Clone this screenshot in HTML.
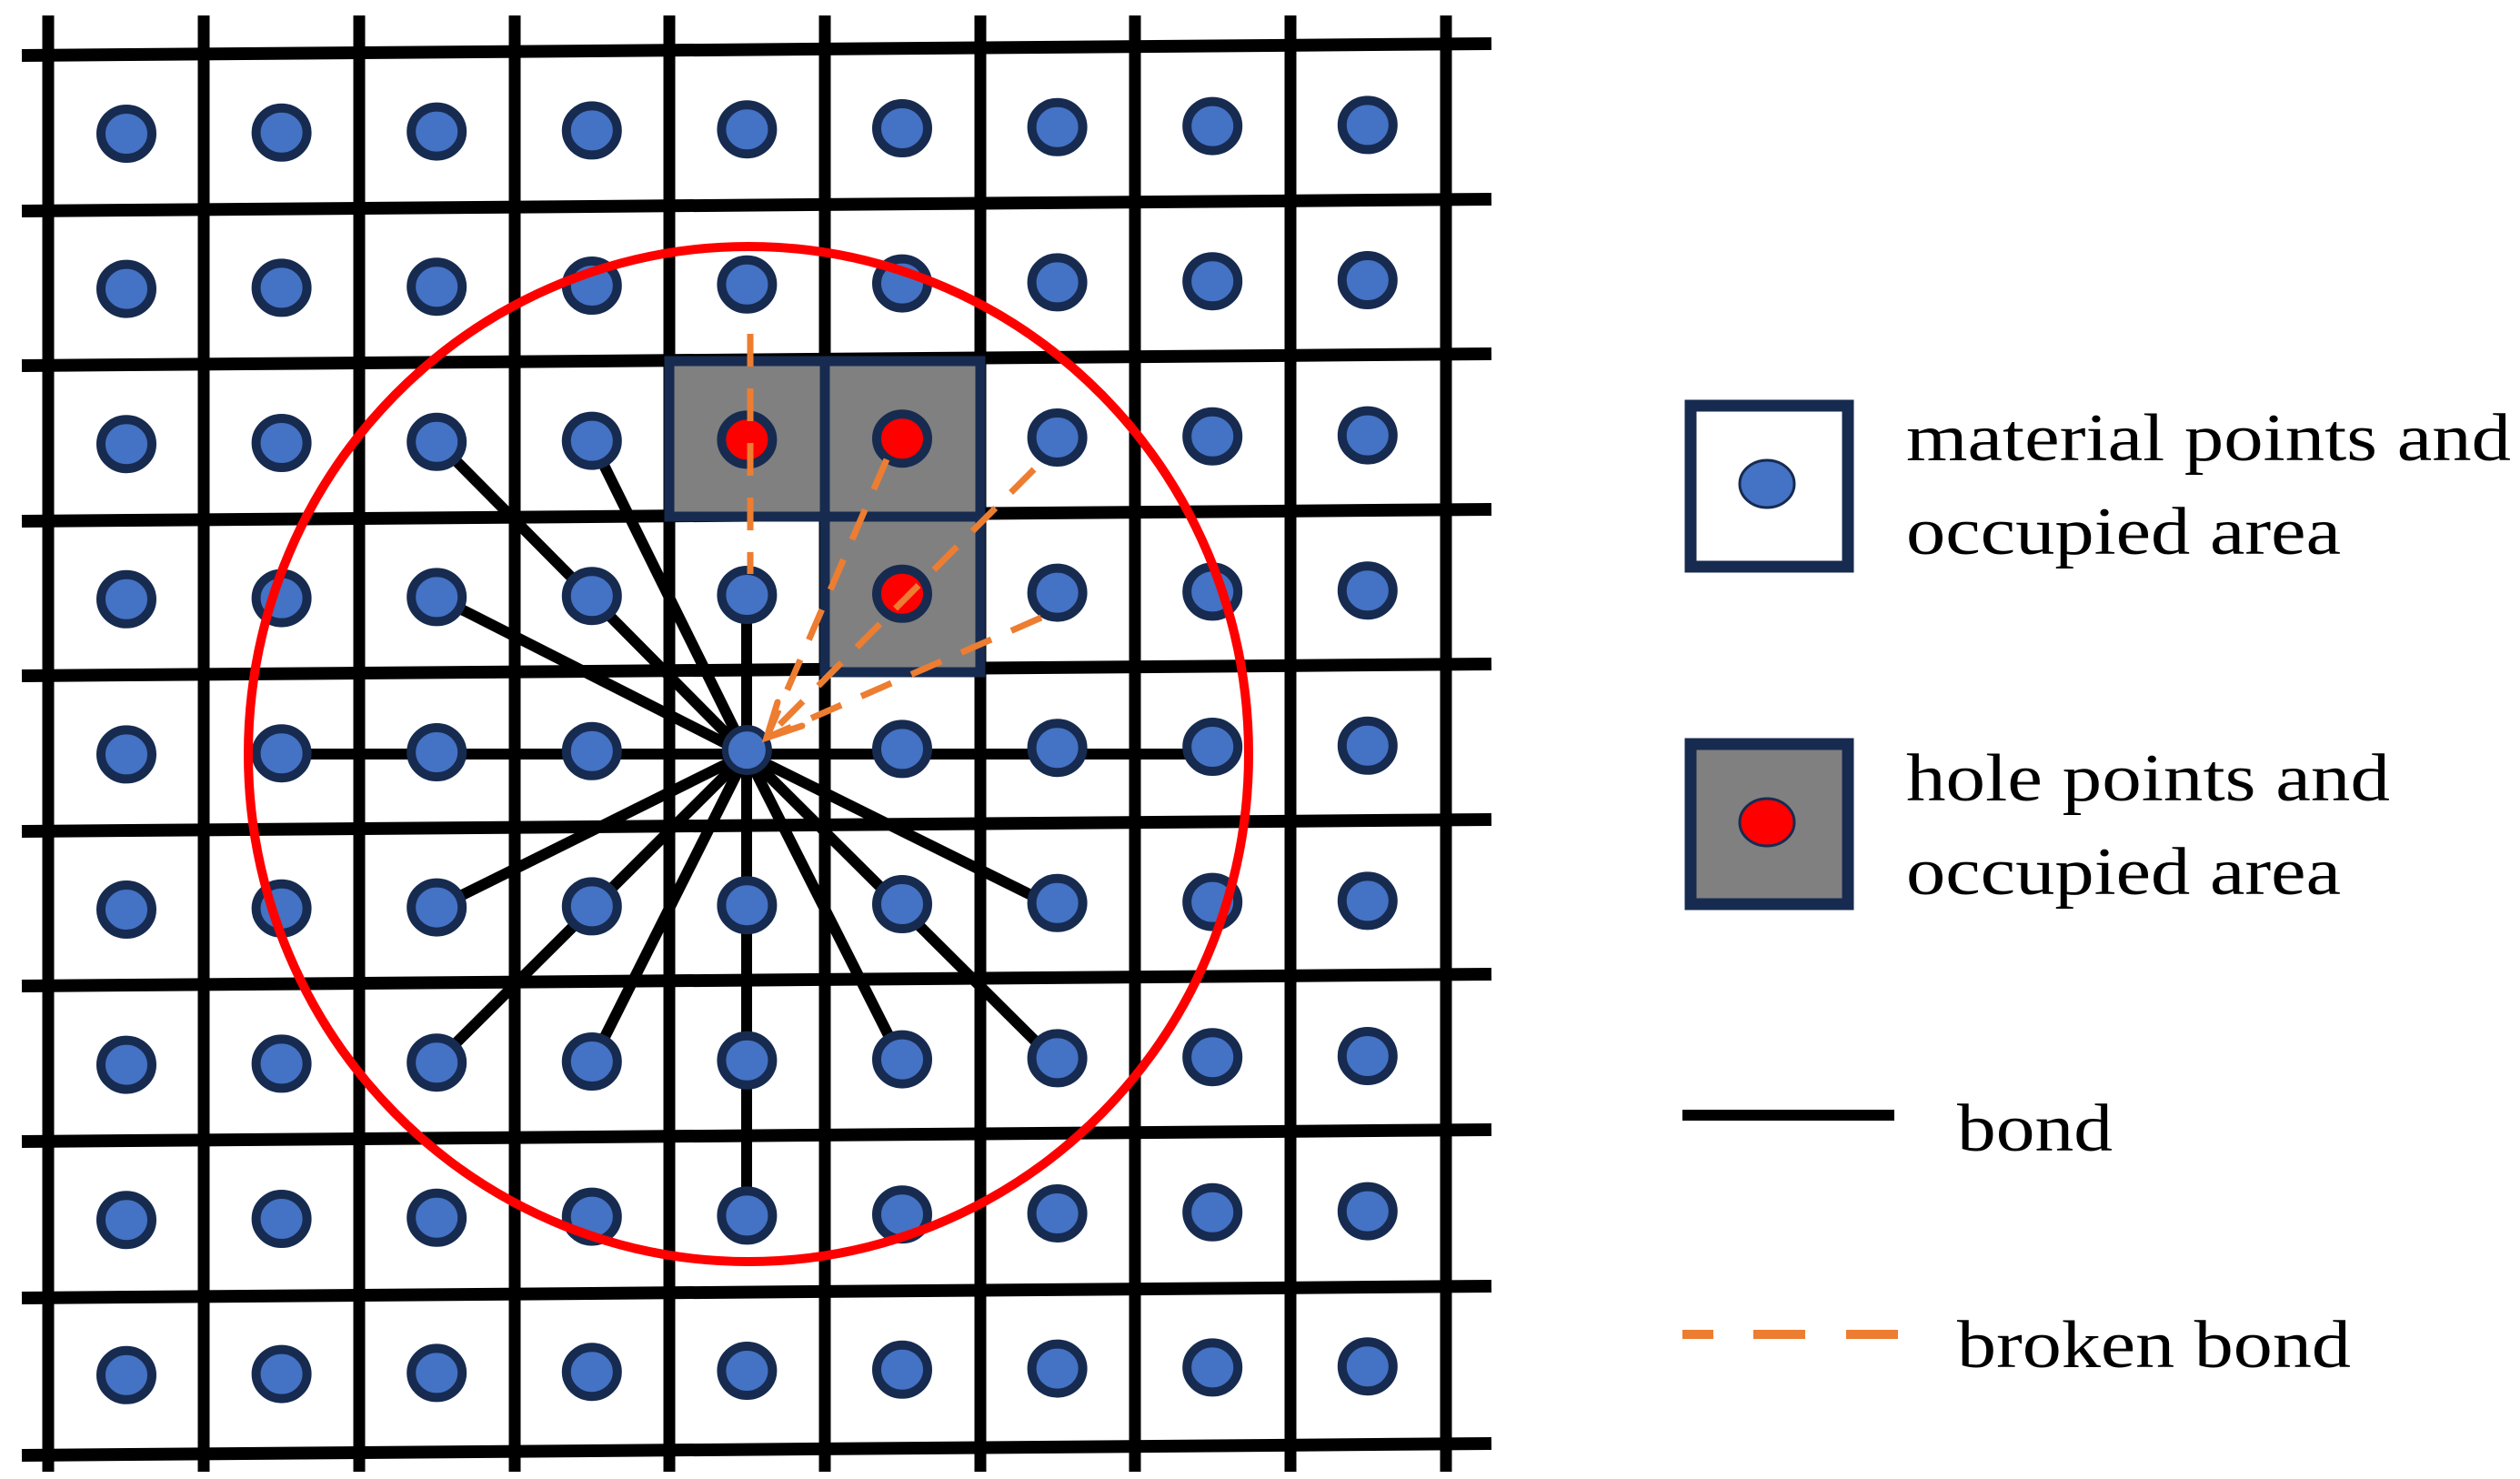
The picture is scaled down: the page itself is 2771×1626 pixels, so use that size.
<!DOCTYPE html>
<html><head><meta charset="utf-8"><style>html,body{margin:0;padding:0;background:#fff}svg{display:block}</style></head>
<body>
<svg width="2771" height="1626" viewBox="0 0 2771 1626" xmlns="http://www.w3.org/2000/svg">
<rect width="2771" height="1626" fill="#fff"/>
<g stroke="#000" stroke-width="13">
<line x1="53" y1="17" x2="53" y2="1618"/>
<line x1="224" y1="17" x2="224" y2="1618"/>
<line x1="395" y1="17" x2="395" y2="1618"/>
<line x1="566" y1="17" x2="566" y2="1618"/>
<line x1="736" y1="17" x2="736" y2="1618"/>
<line x1="907" y1="17" x2="907" y2="1618"/>
<line x1="1078" y1="17" x2="1078" y2="1618"/>
<line x1="1248" y1="17" x2="1248" y2="1618"/>
<line x1="1419" y1="17" x2="1419" y2="1618"/>
<line x1="1590" y1="17" x2="1590" y2="1618"/>
</g>
<g stroke="#000" stroke-width="14">
<line x1="24" y1="61" x2="1640" y2="48"/>
<line x1="24" y1="232" x2="1640" y2="219"/>
<line x1="24" y1="402" x2="1640" y2="389"/>
<line x1="24" y1="573" x2="1640" y2="560"/>
<line x1="24" y1="743" x2="1640" y2="730"/>
<line x1="24" y1="914" x2="1640" y2="901"/>
<line x1="24" y1="1084" x2="1640" y2="1071"/>
<line x1="24" y1="1255" x2="1640" y2="1242"/>
<line x1="24" y1="1427" x2="1640" y2="1414"/>
<line x1="24" y1="1600" x2="1640" y2="1587"/>
</g>
<g fill="#808080" stroke="#172B50" stroke-width="11">
<rect x="736" y="397" width="171" height="171"/>
<rect x="907" y="397" width="171" height="171"/>
<rect x="907" y="568" width="171" height="171"/>
</g>
<g stroke="#000" stroke-width="12" stroke-linecap="round">
<line x1="821" y1="829" x2="480" y2="485"/>
<line x1="821" y1="829" x2="651" y2="485"/>
<line x1="821" y1="829" x2="480" y2="656"/>
<line x1="309" y1="829" x2="1333" y2="829"/>
<line x1="821" y1="829" x2="821" y2="656"/>
<line x1="821" y1="829" x2="821" y2="1340"/>
<line x1="821" y1="829" x2="480" y2="998"/>
<line x1="821" y1="829" x2="480" y2="1168"/>
<line x1="821" y1="829" x2="651" y2="1168"/>
<line x1="821" y1="829" x2="992" y2="1168"/>
<line x1="821" y1="829" x2="1162" y2="1168"/>
<line x1="821" y1="829" x2="1162" y2="998"/>
</g>
<g id="dots" fill="#4472C4" stroke="#172B50" stroke-width="10">
</g>
<ellipse cx="823" cy="829" rx="550" ry="558" fill="none" stroke="#FF0000" stroke-width="10"/>
<script>
(function(){
var g=document.getElementById('dots');var ns='http://www.w3.org/2000/svg';
for(var r=0;r<9;r++)for(var c=0;c<9;c++){
var cx=139+c*170.6, cy=147+r*170.6-c*1.2;
var e=document.createElementNS(ns,'ellipse');
e.setAttribute('cx',cx);e.setAttribute('cy',cy);e.setAttribute('rx',28);e.setAttribute('ry',27);
var hole=(r==2&&(c==4||c==5))||(r==3&&c==5);
if(hole)e.setAttribute('fill','#FF0000');
if(r==4&&c==4){e.setAttribute('rx',24);e.setAttribute('ry',24);e.setAttribute('stroke-width','7');}
g.appendChild(e);}
})();
</script>
<g stroke="#ED7D31" stroke-width="7" fill="none" stroke-dasharray="36 24">
<line x1="825" y1="367" x2="825" y2="631"/>
<line x1="975" y1="505" x2="843" y2="811"/>
<line x1="1137" y1="516" x2="843" y2="811"/>
<line x1="1145" y1="679" x2="843" y2="811"/>
</g>
<g stroke="#ED7D31" stroke-width="7" fill="none" stroke-linecap="round">
<polyline points="855,772 843,811 882,798"/>
</g>
<rect x="1859" y="446" width="173" height="177" fill="#fff" stroke="#172B50" stroke-width="13"/>
<ellipse cx="1943" cy="532" rx="30" ry="26" fill="#4472C4" stroke="#172B50" stroke-width="3"/>
<rect x="1859" y="818" width="173" height="176" fill="#808080" stroke="#172B50" stroke-width="13"/>
<ellipse cx="1943" cy="904" rx="30" ry="26" fill="#FF0000" stroke="#172B50" stroke-width="3"/>
<line x1="1850" y1="1226" x2="2083" y2="1226" stroke="#000" stroke-width="12"/>
<g stroke="#ED7D31" stroke-width="10">
<line x1="1850" y1="1467" x2="1884" y2="1467"/>
<line x1="1928" y1="1467" x2="1985" y2="1467"/>
<line x1="2030" y1="1467" x2="2087" y2="1467"/>
</g>
<g font-family="Liberation Serif, serif" font-size="74" fill="#000">
<text x="2096" y="506" textLength="665" lengthAdjust="spacingAndGlyphs">material points and</text>
<text x="2096" y="609" textLength="478" lengthAdjust="spacingAndGlyphs">occupied area</text>
<text x="2096" y="880" textLength="532" lengthAdjust="spacingAndGlyphs">hole points and</text>
<text x="2096" y="983" textLength="478" lengthAdjust="spacingAndGlyphs">occupied area</text>
<text x="2152" y="1265" textLength="171" lengthAdjust="spacingAndGlyphs">bond</text>
<text x="2152" y="1503" textLength="433" lengthAdjust="spacingAndGlyphs">broken bond</text>
</g>
</svg>
</body></html>
